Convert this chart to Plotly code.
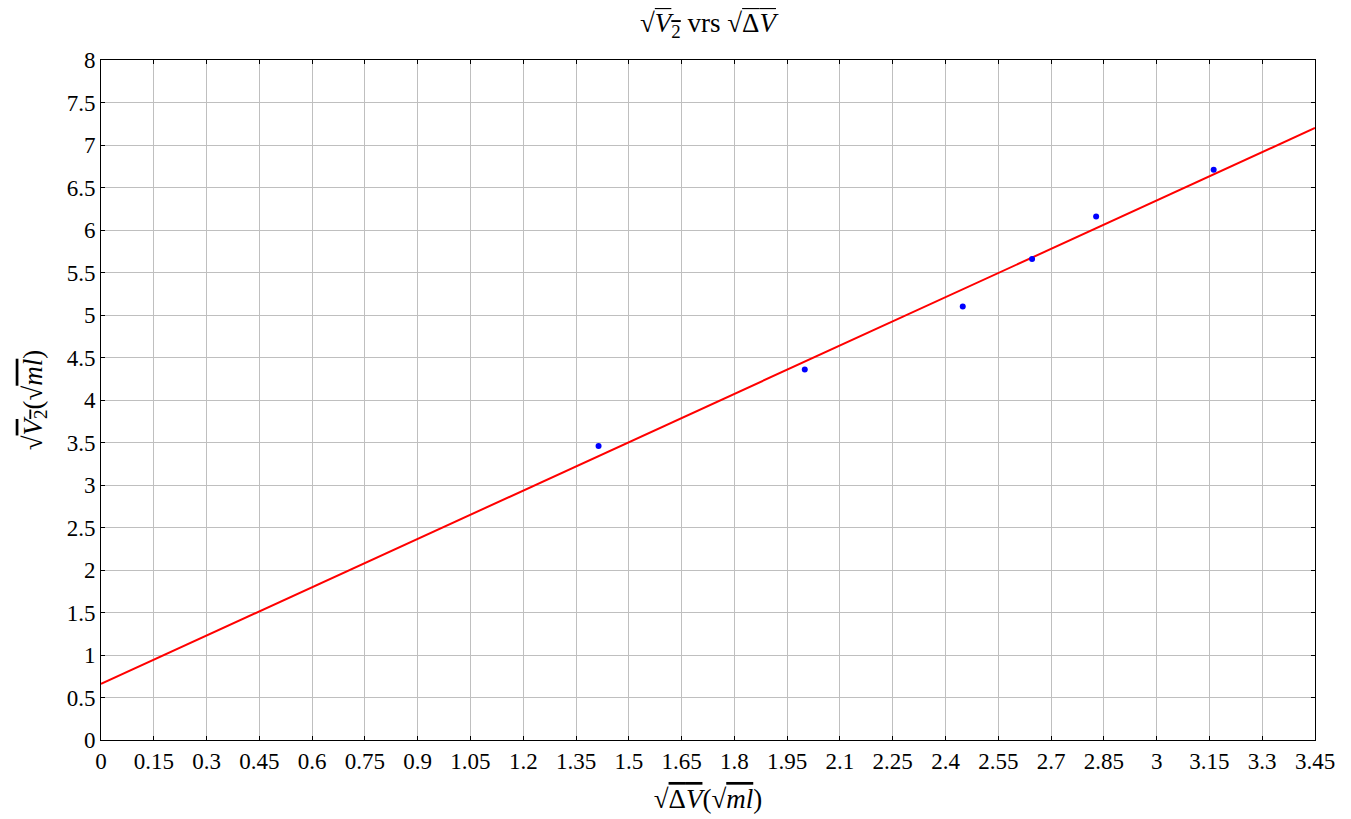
import plotly.graph_objects as go

# data
x_points = [1.414, 2.0, 2.449, 2.646, 2.828, 3.162]
y_points = [3.46, 4.36, 5.10, 5.66, 6.16, 6.71]
line_x = [0.0, 3.45]
line_y = [0.66, 7.20]
x_ticks = [round(0.15 * i, 2) for i in range(24)]
x_tick_labels = ["0", "0.15", "0.3", "0.45", "0.6", "0.75", "0.9", "1.05", "1.2", "1.35", "1.5",
                 "1.65", "1.8", "1.95", "2.1", "2.25", "2.4", "2.55", "2.7", "2.85", "3", "3.15",
                 "3.3", "3.45"]
y_ticks = [0.5 * i for i in range(17)]
y_tick_labels = ["0", "0.5", "1", "1.5", "2", "2.5", "3", "3.5", "4", "4.5", "5", "5.5", "6",
                 "6.5", "7", "7.5", "8"]

FONT = "Liberation Serif"
OV = "<span style='text-decoration:overline'>"

fig = go.Figure()
fig.add_trace(go.Scatter(x=line_x, y=line_y, mode="lines",
                         line=dict(color="#ff0000", width=2), showlegend=False))
fig.add_trace(go.Scatter(x=x_points, y=y_points, mode="markers",
                         marker=dict(color="#0000ff", size=6), showlegend=False))

axis_common = dict(
    showgrid=True, gridcolor="#bfbfbf", gridwidth=1,
    showline=True, linecolor="black", linewidth=1, mirror="ticks",
    ticks="inside", ticklen=4, tickcolor="black",
    zeroline=False, tickfont=dict(family=FONT, size=23, color="black"),
)

fig.update_xaxes(range=[0, 3.45], tickvals=x_ticks, ticktext=x_tick_labels,
                 title=dict(text="√" + OV + "Δ<i>V</i></span>(√" + OV + "<i>ml</i></span>)",
                            font=dict(family=FONT, size=27, color="black"), standoff=16),
                 **axis_common)
fig.update_yaxes(range=[0, 8], tickvals=y_ticks, ticktext=y_tick_labels,
                 title=dict(text="√" + OV + "<i>V</i><sub>2</sub></span>(√" + OV + "<i>ml</i></span>)",
                            font=dict(family=FONT, size=27, color="black"), standoff=16),
                 **axis_common)

fig.update_layout(
    width=1351, height=819,
    margin=dict(l=93, r=44, t=52, b=87),
    plot_bgcolor="white", paper_bgcolor="white",
    title=dict(text="√" + OV + "<i>V</i><sub>2</sub></span> vrs √" + OV + "Δ<i>V</i></span>",
               x=(93 + 1307) / 2 / 1351, xanchor="center", y=1 - 15 / 819, yanchor="middle",
               font=dict(family=FONT, size=27, color="black")),
)

fig.write_html("out.html")
